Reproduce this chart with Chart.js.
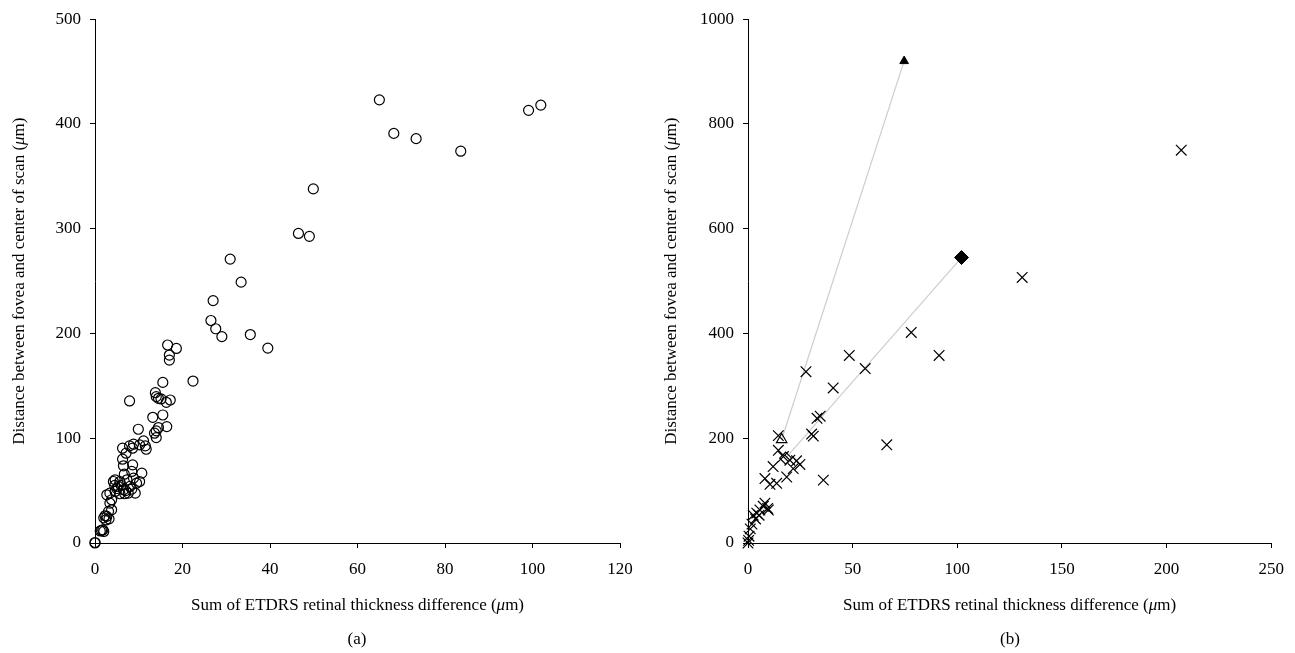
<!DOCTYPE html>
<html>
<head>
<meta charset="utf-8">
<script src="https://cdn.jsdelivr.net/npm/chart.js@4.4.1/dist/chart.umd.min.js"></script>
<style>
  body { margin: 0; background: #fff; width: 1295px; height: 653px; overflow: hidden; position: relative; font-family: "Liberation Serif", serif; }
  canvas { position: absolute; top: 0; }
  #chartA { left: 0; }
  #chartB { left: 660px; }
  .tag { position: absolute; top: 630px; font-size: 17px; line-height: 17px; transform: translateX(-50%); color: #000; }
</style>
</head>
<body>
<canvas id="chartA" width="660" height="653"></canvas>
<canvas id="chartB" width="635" height="653"></canvas>
<div class="tag" style="left:357px">(a)</div>
<div class="tag" style="left:1010px">(b)</div>
<script>
document.addEventListener("DOMContentLoaded", () => {

// axis titles, split so the mu can be set in italic
const X_TITLE = ["Sum of ETDRS retinal thickness difference (", "\u03bc", "m)"];
const Y_TITLE = ["Distance between fovea and center of scan (", "\u03bc", "m)"];

// panel (a): circles, [sum of thickness difference, distance]
const circlesA = [
  [65,423],[68.3,391],[73.4,386],[83.6,374],[99.1,413],[101.9,418],
  [49.9,338],[46.5,295.5],[49,292.7],
  [30.9,271],[33.4,249],[27,231.4],[26.5,212.4],[27.6,204.5],[29,197],[35.5,199],[39.5,186],
  [22.4,154.6],[7.9,135.6],
  [16.6,189],[18.6,185.7],[17,179.4],[17,174.6],[15.5,153.3],
  [13.8,143.5],[14,139.7],[14.5,138.1],[15.1,137.5],[17.2,136.5],[16.3,134.3],
  [15.5,122.2],[13.2,120],
  [16.4,111.1],[14.5,110.2],[14,107],[13.6,104.8],[14,100.6],
  [9.9,108.6],
  [11.1,97.5],[11.7,89.5],[11.5,92.7],[10.2,93.7],[8.8,94.3],[7.9,92.7],[6.3,90.5],[7.1,85.7],[8.6,90.5],
  [6.3,80],[6.5,73.7],[8.6,74.6],[8.4,68.3],[10.7,66.7],[6.7,65.7],
  [4.6,60.3],[4.2,58.7],[5.7,58.7],[7.3,60.3],[8.8,61.9],[9.5,57.1],[8,54],[5.3,54],[6.5,50.8],
  [4.6,49.2],[3.4,47.6],[9.2,47.6],[7.6,47.6],[5.7,47],[8.4,51.4],[10.2,58.7],
  [5,52],[6,55],[7,50],[4.5,55],[6.8,47],
  [2.7,46],[3.8,41.3],[3.4,38.1],[3.8,31.7],[3.1,30.2],[2.3,26],[2.7,25.4],
  [2.5,22],[2,24],[3.2,23],[1.5,12],[1.2,11.5],[1.8,12.5],[2,11],[0,0],[0,0.5]
];

// panel (b): crosses
const crossesB = [
  [207,750],[131,507],[78,402],[91.3,358],[48.4,358],[56,333],[27.7,327],[40.7,296],
  [33,238],[34.5,242],[30.4,208],[31.2,204],[66.3,187.5],[36,120],
  [14.5,205],[14.5,177],[12,146],[16.9,165],[20,158],[23.2,157],[24.8,150],[21.6,142],
  [18.5,126],[8.1,123],[10.5,112],[13.7,114],
  [8.1,76],[7.3,70],[9.7,63],[5.7,63],[4.2,57],[2.5,53],[9.4,66],[5.3,53],[3.6,46],
  [1.9,36],[1.1,27],[0.5,13],[0,0],[0.3,5]
];
// panel (b): the two highlighted cases, before (open) and after (filled)
const triangleOpen = [[16.1,197.5]];
const triangleFilled = [[74.6,920]];
const diamondOpen = [[18,162]];
const diamondFilled = [[102,545]];

const toXY = arr => arr.map(p => ({x: p[0], y: p[1]}));
const FAMILY = "Liberation Serif";
const font = { family: FAMILY, size: 17 };

function drawParts(ctx, parts, x, y, angle) {
  const fonts = parts.map((_, i) => (i === 1 ? "italic " : "") + "17px '" + FAMILY + "'");
  let total = 0;
  const widths = parts.map((t, i) => { ctx.font = fonts[i]; const w = ctx.measureText(t).width; total += w; return w; });
  ctx.save();
  ctx.translate(x, y);
  ctx.rotate(angle);
  let pos = -total / 2;
  parts.forEach((t, i) => { ctx.font = fonts[i]; ctx.fillText(t, pos, 0); pos += widths[i]; });
  ctx.restore();
}

const axisTitles = {
  id: "axisTitles",
  afterDraw(chart, args, opts) {
    const { ctx, chartArea } = chart;
    ctx.save();
    ctx.fillStyle = "#000";
    ctx.textBaseline = "middle";
    ctx.textAlign = "left";
    drawParts(ctx, X_TITLE, (chartArea.left + chartArea.right) / 2, opts.xTitleY, 0);
    drawParts(ctx, Y_TITLE, opts.yTitleX, (chartArea.top + chartArea.bottom) / 2, -Math.PI / 2);
    ctx.restore();
  }
};

function scales(xMax, xStep, yMax, yStep, yWidth) {
  return {
    x: {
      type: "linear", min: 0, max: xMax,
      ticks: { stepSize: xStep, padding: 11, font: font, color: "#000", callback: v => String(v) },
      grid: { drawOnChartArea: false, tickLength: 5, color: "#000" },
      border: { color: "#000", width: 1 },
      afterFit: s => { s.height = 110; }
    },
    y: {
      type: "linear", min: 0, max: yMax,
      ticks: { stepSize: yStep, padding: 9, font: font, color: "#000", callback: v => String(v) },
      grid: { drawOnChartArea: false, tickLength: 5, color: "#000" },
      border: { color: "#000", width: 1 },
      afterFit: s => { s.width = yWidth; }
    }
  };
}

function options(padRight, yWidth, xMax, xStep, yMax, yStep, yTitleX) {
  return {
    responsive: false,
    animation: false,
    devicePixelRatio: 1,
    layout: { padding: { top: 18, right: padRight, left: 0, bottom: 0 } },
    plugins: {
      legend: { display: false },
      tooltip: { enabled: false },
      axisTitles: { xTitleY: 606, yTitleX: yTitleX }
    },
    scales: scales(xMax, xStep, yMax, yStep, yWidth)
  };
}

new Chart(document.getElementById("chartA"), {
  type: "scatter",
  data: {
    datasets: [{
      data: toXY(circlesA),
      pointStyle: "circle",
      pointRadius: 5,
      borderColor: "#000",
      borderWidth: 1.2,
      backgroundColor: "rgba(0,0,0,0)",
      clip: false
    }]
  },
  options: options(40, 95, 120, 20, 500, 100, 20),
  plugins: [axisTitles]
});

const greyLine = {
  showLine: true, borderColor: "#cdcdcd", borderWidth: 1.2,
  pointRadius: 0, order: 10, clip: false
};

new Chart(document.getElementById("chartB"), {
  type: "scatter",
  data: {
    datasets: [
      Object.assign({ data: toXY([triangleFilled[0], triangleOpen[0]]) }, greyLine),
      Object.assign({ data: toXY([diamondFilled[0], diamondOpen[0]]) }, greyLine),
      {
        data: toXY(crossesB), pointStyle: "crossRot", pointRadius: 7.5,
        borderColor: "#000", borderWidth: 1.2, backgroundColor: "#000", clip: false, order: 2
      },
      {
        data: toXY(triangleOpen), pointStyle: "triangle", pointRadius: 6,
        borderColor: "#000", borderWidth: 1.2, backgroundColor: "rgba(0,0,0,0)", order: 1
      },
      {
        data: toXY(triangleFilled), pointStyle: "triangle", pointRadius: 5,
        borderColor: "#000", borderWidth: 1, backgroundColor: "#000", order: 1
      },
      {
        data: toXY(diamondOpen), pointStyle: "rectRot", pointRadius: 6,
        borderColor: "#000", borderWidth: 1.2, backgroundColor: "rgba(0,0,0,0)", order: 1
      },
      {
        data: toXY(diamondFilled), pointStyle: "rectRot", pointRadius: 7,
        borderColor: "#000", borderWidth: 1, backgroundColor: "#000", order: 1
      }
    ]
  },
  options: options(23, 88, 250, 50, 1000, 200, 12),
  plugins: [axisTitles]
});

});
</script>
</body>
</html>
